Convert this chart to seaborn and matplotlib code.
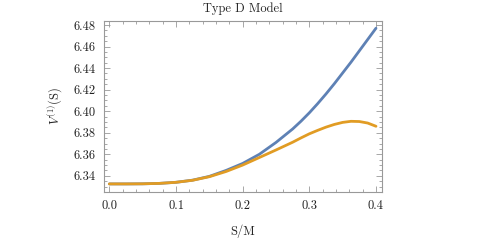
import numpy as np
import pandas as pd
import seaborn as sns
import matplotlib.pyplot as plt
from matplotlib.ticker import MultipleLocator

# valores
s_m = [0.0, 0.025, 0.05, 0.075, 0.1, 0.125, 0.15, 0.175, 0.2, 0.225, 0.25,
       0.275, 0.2875, 0.3, 0.3125, 0.325, 0.3375, 0.35, 0.3625, 0.375, 0.3875, 0.4]
v_azul = [6.3325, 6.3325, 6.3326, 6.3330, 6.3340, 6.3360, 6.3395, 6.3450, 6.3515, 6.3600, 6.3710,
          6.3835, 6.3907, 6.3985, 6.4070, 6.4160, 6.4255, 6.4355, 6.4455, 6.4560, 6.4665, 6.4770]
v_laranja = [6.3325, 6.3325, 6.3326, 6.3330, 6.3340, 6.3359, 6.3392, 6.3440, 6.3500, 6.3570, 6.3640,
             6.3712, 6.3752, 6.3790, 6.3822, 6.3852, 6.3877, 6.3896, 6.3906, 6.3904, 6.3890, 6.3860]
series = ['a', 'b']

df = pd.DataFrame({
    'S': s_m * 2,
    'V': v_azul + v_laranja,
    'serie': [series[0]] * len(s_m) + [series[1]] * len(s_m),
})

sns.set_style('ticks')
plt.rcParams['font.family'] = ['cmr10', 'DejaVu Serif']
plt.rcParams['mathtext.fontset'] = 'cm'
plt.rcParams['axes.formatter.use_mathtext'] = True

fig = plt.figure(figsize=(4.86, 2.42), dpi=100)
ax = fig.add_axes([0.214, 0.2066, 0.572, 0.708])

sns.lineplot(data=df, x='S', y='V', hue='serie', palette=['#5E81B5', '#E19C24'],
             linewidth=2.0, legend=False, ax=ax)
for ln in ax.lines:
    ln.set_solid_joinstyle('round')

ax.set_xlim(-0.008, 0.409)
ax.set_ylim(6.325, 6.484)
ax.xaxis.set_major_locator(MultipleLocator(0.1))
ax.xaxis.set_minor_locator(MultipleLocator(0.02))
ax.yaxis.set_major_locator(MultipleLocator(0.02))
ax.yaxis.set_minor_locator(MultipleLocator(0.005))
ax.xaxis.set_major_formatter(lambda v, p: f'{v:.1f}')
ax.yaxis.set_major_formatter(lambda v, p: f'{v:.2f}')

for sp in ax.spines.values():
    sp.set_color('#999999')
    sp.set_linewidth(0.8)
ax.tick_params(which='both', direction='in', top=True, right=True, color='#999999',
               labelsize=9, labelcolor='#222222', width=0.6)
ax.tick_params(which='major', length=4, pad=6)
ax.tick_params(which='minor', length=2)

ax.set_title('Type D Model', fontsize=9, pad=6)
ax.set_xlabel('S/M', fontsize=9, labelpad=9)
ax.set_ylabel(r'$V^{(1)}(\mathrm{S})$', fontsize=9, labelpad=6)

fig.savefig('out.png', dpi=100)
